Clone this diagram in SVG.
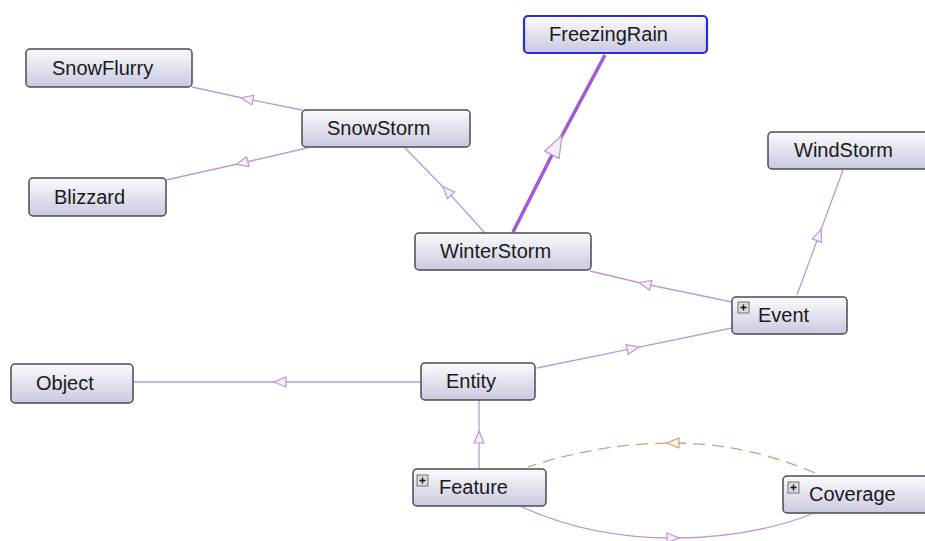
<svg xmlns="http://www.w3.org/2000/svg" width="925" height="541" viewBox="0 0 925 541">
<style>
.node rect.box{fill:url(#g);stroke:#4a4a52;stroke-width:1.5}
.node text{font-family:"Liberation Sans",Arial,sans-serif;font-size:20px;fill:#1a1a1a}
.edge{fill:none;stroke:#bb9bd3;stroke-width:1.3;marker-mid:url(#tri)}
.thick{fill:none;stroke:#a458d6;stroke-width:3.5;marker-mid:url(#bigtri)}
.dash{fill:none;stroke:#c9a57a;stroke-width:1.3;stroke-dasharray:12 7;marker-mid:url(#dtri)}
.plus rect{fill:#dcdcdc;stroke:#555;stroke-width:0.8}
.plus path{stroke:#111;stroke-width:1.4}
</style>
<defs>
<linearGradient id="g" x1="0" y1="0" x2="0" y2="1">
<stop offset="0" stop-color="#fbfbfd"/>
<stop offset="1" stop-color="#c9c9e0"/>
</linearGradient>
<marker id="tri" viewBox="0 0 14 12" refX="7" refY="6" markerWidth="14" markerHeight="12" markerUnits="userSpaceOnUse" orient="auto">
<path d="M1,1 L13,6 L1,11 Z" fill="#f6ecfa" stroke="#bb9bd3" stroke-width="1.2"/>
</marker>
<marker id="bigtri" viewBox="0 0 24 18" refX="12" refY="9" markerWidth="24" markerHeight="18" markerUnits="userSpaceOnUse" orient="auto">
<path d="M1,1 L23,9 L1,17 Z" fill="#f6ecfa" stroke="#bb9bd3" stroke-width="1.3"/>
</marker>
<marker id="dtri" viewBox="0 0 14 12" refX="7" refY="6" markerWidth="14" markerHeight="12" markerUnits="userSpaceOnUse" orient="auto">
<path d="M1,1 L13,6 L1,11 Z" fill="#fdf3e4" stroke="#c9a57a" stroke-width="1.2"/>
</marker>
<g id="plusicon" class="plus"><rect x="0" y="0" width="11" height="11"/><path d="M2.5,5.5 H8.5 M5.5,2.5 V8.5"/></g>
</defs>
<rect width="925" height="541" fill="#ffffff"/>
<g id="connectors">
<path class="edge" d="M302,110 L247,99 L192,87"/>
<path class="edge" d="M307,148 L242,163 L166,180"/>
<path class="edge" d="M485,233 L447,191 L405,148"/>
<path class="thick" d="M513,232 L557,145 L605,55"/>
<path class="edge" d="M732,302 L645,284 L590,271"/>
<path class="edge" d="M797,295 L819,235 L843,170"/>
<path class="edge" d="M537,368 L633,348.3 L732,328"/>
<path class="edge" d="M421,382 L280,382 L133,382"/>
<path class="edge" d="M479,469 L479,437 L479,400"/>
<path class="dash" d="M815,473 Q745,443 673,443 Q600,443 528,467"/>
<path class="edge" d="M522,507 Q590,538 673,538 Q750,538 812,514"/>
</g>
<g id="SnowFlurry" class="node"><rect class="box" x="26" y="49" width="166" height="38" rx="4"/><text x="52" y="74.5">SnowFlurry</text></g>
<g id="SnowStorm" class="node"><rect class="box" x="302" y="110" width="168" height="37" rx="4"/><text x="327" y="135">SnowStorm</text></g>
<g id="Blizzard" class="node"><rect class="box" x="29" y="178" width="137" height="38" rx="4"/><text x="54" y="203.5">Blizzard</text></g>
<g id="FreezingRain" class="node"><rect class="box" x="524" y="16" width="183" height="37" rx="4" style="stroke:#2a2ad8;stroke-width:2.2"/><text x="549" y="41">FreezingRain</text></g>
<g id="WindStorm" class="node"><rect class="box" x="768" y="132" width="165" height="37" rx="4"/><text x="794" y="157">WindStorm</text></g>
<g id="WinterStorm" class="node"><rect class="box" x="415" y="233" width="176" height="37" rx="4"/><text x="440" y="258">WinterStorm</text></g>
<g id="Event" class="node"><rect class="box" x="732" y="297" width="115" height="37" rx="4"/><use href="#plusicon" x="738" y="302"/><text x="758" y="322">Event</text></g>
<g id="Object" class="node"><rect class="box" x="11" y="364" width="122" height="39" rx="4"/><text x="36" y="390">Object</text></g>
<g id="Entity" class="node"><rect class="box" x="421" y="363" width="114" height="37" rx="4"/><text x="446" y="388">Entity</text></g>
<g id="Feature" class="node"><rect class="box" x="413" y="469" width="133" height="37" rx="4"/><use href="#plusicon" x="417" y="475"/><text x="439" y="494">Feature</text></g>
<g id="Coverage" class="node"><rect class="box" x="783" y="476" width="150" height="37" rx="4"/><use href="#plusicon" x="788" y="482"/><text x="809" y="501">Coverage</text></g>
</svg>
